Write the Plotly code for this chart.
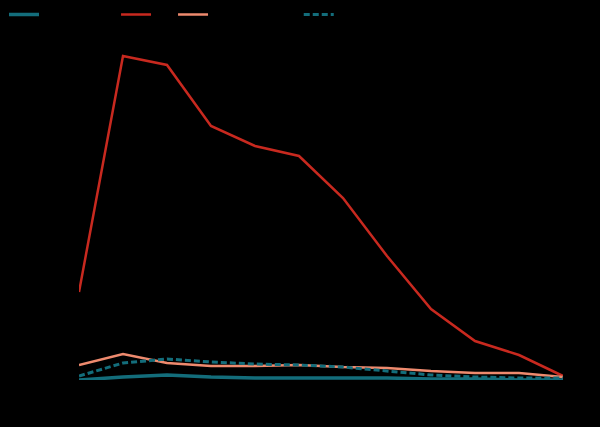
import plotly.graph_objects as go

years = [2010, 2011, 2012, 2013, 2014, 2015, 2016, 2017, 2018, 2019, 2020, 2021]
series_a = [0, 3, 5, 3, 2, 2, 2, 2, 1, 1, 0, 0]
series_b = [88, 324, 315, 254, 234, 224, 182, 124, 71, 39, 25, 4]
series_c = [15, 26, 17, 14, 14, 15, 13, 12, 9, 7, 7, 3]
series_d = [4, 17, 21, 18, 16, 15, 13, 9, 5, 3, 2, 2]
names = ["Series alpha", "Bt", "Series gamma.", "Delta"]

teal = "#136d7b"
red = "#c8291f"
salmon = "#ee8a6e"

fig = go.Figure()
fig.add_trace(go.Scatter(x=years, y=series_a, name=names[0], mode="lines", cliponaxis=False,
                         line=dict(color=teal, width=3.5)))
fig.add_trace(go.Scatter(x=years, y=series_b, name=names[1], mode="lines", cliponaxis=False,
                         line=dict(color=red, width=2.5)))
fig.add_trace(go.Scatter(x=years, y=series_c, name=names[2], mode="lines", cliponaxis=False,
                         line=dict(color=salmon, width=2.5)))
fig.add_trace(go.Scatter(x=years, y=series_d, name=names[3], mode="lines", cliponaxis=False,
                         line=dict(color=teal, width=3, dash="6px,3px")))

fig.update_layout(
    width=600, height=427,
    paper_bgcolor="black", plot_bgcolor="black",
    font=dict(color="black", family="Arial, Liberation Sans", size=12),
    margin=dict(l=79, r=37, t=40, b=47),
    showlegend=True,
    legend=dict(orientation="h", xref="container", yref="container",
                x=4 / 600, y=1, xanchor="left", yanchor="top",
                bgcolor="rgba(0,0,0,0)"),
    xaxis=dict(range=[2010, 2021], showgrid=False, zeroline=False,
               showline=False, ticks="", ticklabelstandoff=6),
    yaxis=dict(range=[0, 340], showgrid=False, zeroline=False,
               showline=False, ticks="", ticklabelstandoff=10),
)
fig.write_html(
    "out.html",
    config={"displayModeBar": False},
    post_script="document.body.style.margin='0';document.body.style.background='black';document.body.style.overflow='hidden';",
)
